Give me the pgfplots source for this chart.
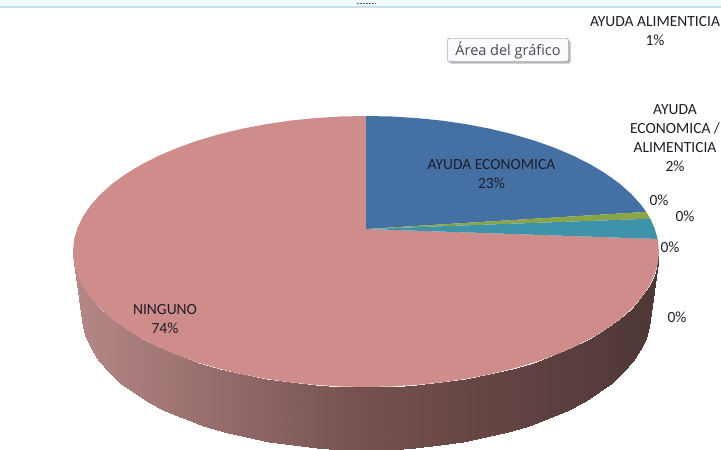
\documentclass[border=0pt]{standalone}
\usepackage{fontspec}
\setmainfont{Carlito}
\newfontfamily\tipfont{Open Sans}
\usepackage{pgfplots}
\pgfplotsset{compat=1.18}
\usetikzlibrary{shadows}
\definecolor{cblue}{HTML}{4470A4}
\definecolor{cgreen}{HTML}{8BA446}
\definecolor{cteal}{HTML}{3E93AB}
\definecolor{cpink}{HTML}{CE8C8B}
\definecolor{ctext}{HTML}{1E1E28}

% outline points in picture pixels, y counted from the top
\pgfplotstableread{
x y
659 251.5
650 315
657.9 263.3
648.9 326.8
654.5 275
645.7 338.4
649 286.6
640.3 349.9
641.3 297.8
632.9 361.2
631.5 308.8
623.4 372.1
619.7 319.3
611.9 382.5
606 329.2
598.7 392.4
590.4 338.6
583.5 401.8
573.2 347.3
566.8 410.5
554.3 355.3
548.6 418.4
534.1 362.5
528.9 425.6
512.5 368.8
508 431.9
489.8 374.3
486 437.4
466.2 378.8
463.1 441.9
441.8 382.4
439.5 445.4
416.9 384.9
415.3 447.9
391.5 386.5
390.8 449.5
366 387
366 450
340.5 386.5
341.2 449.5
315.1 384.9
316.7 447.9
290.2 382.4
292.5 445.4
265.8 378.8
268.9 441.9
242.2 374.3
246 437.4
219.5 368.8
224 431.9
197.9 362.5
203.1 425.6
177.7 355.3
183.4 418.4
158.8 347.3
165.2 410.5
141.6 338.6
148.5 401.8
126 329.2
133.3 392.4
112.3 319.3
120.1 382.5
100.5 308.8
108.6 372.1
90.7 297.8
99.1 361.2
83 286.6
91.7 349.9
77.5 275
86.3 338.4
74.1 263.3
83.1 326.8
73 251.5
82 315
}\sidetable

\begin{document}
\begin{tikzpicture}
\path[use as bounding box] (0,0) rectangle (721pt,450pt);
\begin{axis}[
    at={(0,0)},
    anchor=south west,
    width=721pt,
    height=450pt,
    scale only axis,
    axis lines=none,
    xmin=0, xmax=721,
    ymin=0, ymax=450,
    y dir=reverse,
    clip=false,
    colormap={side}{rgb255(0)=(182,136,136) rgb255(1)=(116,80,78) rgb255(2)=(78,55,54)},
    point meta min=73,
    point meta max=659,
    nodes={font=\fontsize{15.5}{19}\selectfont, text=ctext, align=center, inner sep=0pt},
]
% rim of the chart window
\addplot[draw=none, fill=black!3!cyan!6] coordinates {(0,0) (721,0) (721,6) (0,6)} \closedcycle;
\addplot[color=black!30!cyan!25!white, line width=1.4pt] coordinates {(0,6.8) (721,6.8)};
\addplot[color=black!65, line width=0.7pt, dash pattern=on 1.5pt off 1.5pt] coordinates {(357,3) (376,3)};

% side wall
\addplot[surf, shader=interp, mesh/ordering=x varies, mesh/cols=2, point meta=x] table[x=x, y=y] {\sidetable};

% NINGUNO
\addplot[fill=cpink, draw=none] coordinates {
(366,229) (657.7,239) (659,251.5) (657.9,263.3) (654.5,275) (649,286.6) (641.3,297.8)
(631.5,308.8) (619.7,319.3) (606,329.2) (590.4,338.6) (573.2,347.3) (554.3,355.3)
(534.1,362.5) (512.5,368.8) (489.8,374.3) (466.2,378.8) (441.8,382.4) (416.9,384.9)
(391.5,386.5) (366,387) (340.5,386.5) (315.1,384.9) (290.2,382.4) (265.8,378.8)
(242.2,374.3) (219.5,368.8) (197.9,362.5) (177.7,355.3) (158.8,347.3) (141.6,338.6)
(126,329.2) (112.3,319.3) (100.5,308.8) (90.7,297.8) (83,286.6) (77.5,275) (74.1,263.3)
(73,251.5) (74.1,239.7) (77.5,228) (83,216.4) (90.7,205.2) (100.5,194.2) (112.3,183.7)
(126,173.8) (141.6,164.4) (158.8,155.7) (177.7,147.7) (197.9,140.5) (219.5,134.2)
(242.2,128.7) (265.8,124.2) (290.2,120.6) (315.1,118.1) (340.5,116.5) (366,116)
} -- cycle;

% AYUDA ECONOMICA
\addplot[fill=cblue, draw=none] coordinates {
(366,229) (366,116) (391.5,116.5) (416.9,118.1) (441.8,120.6) (466.2,124.2) (489.8,128.7)
(512.5,134.2) (534.1,140.5) (554.3,147.7) (573.2,155.7) (590.4,164.4) (606,173.8)
(619.7,183.7) (631.5,194.2) (641.3,205.2) (646.2,211.9)
} -- cycle;

% AYUDA ALIMENTICIA
\addplot[fill=cgreen, draw=none] coordinates {(366,229) (646.2,211.9) (650.3,218.7)} -- cycle;

% AYUDA ECONOMICA / ALIMENTICIA
\addplot[fill=cteal, draw=none] coordinates {(366,229) (650.3,218.7) (654.5,228) (657.7,239)} -- cycle;

\node at (axis cs:491.5,174.5) {AYUDA ECONOMICA\\23\%};
\node at (axis cs:165,319.5) {NINGUNO\\74\%};
\node at (axis cs:655,31.5) {AYUDA ALIMENTICIA\\1\%};
\node at (axis cs:675,138.5) {AYUDA\\ECONOMICA /\\ALIMENTICIA\\2\%};
\node at (axis cs:659,200) {0\%};
\node at (axis cs:685,216) {0\%};
\node at (axis cs:670,247) {0\%};
\node at (axis cs:677,317) {0\%};

\node[draw=black!55, fill=blue!2, rounded corners=2pt, drop shadow={shadow xshift=2pt, shadow yshift=-2pt, fill=black!55},
      minimum width=121pt, minimum height=23pt, text=black!70, font=\tipfont\fontsize{14.5}{16}\selectfont]
    at (axis cs:508,50) {Área del gráfico};
\end{axis}
\end{tikzpicture}
\end{document}
